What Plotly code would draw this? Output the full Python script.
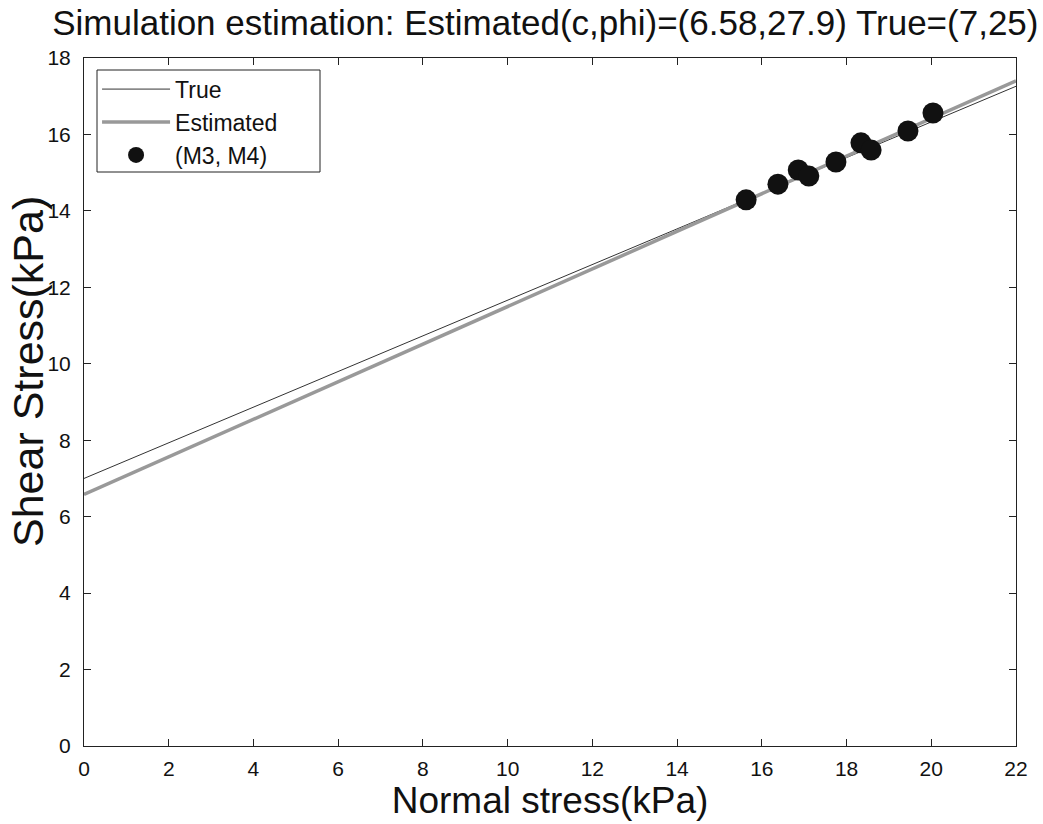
import plotly.graph_objects as go

# Data
line_x = [0, 22]
true_y = [7.0, 17.26]
est_y = [6.58, 17.40]
pts_x = [15.63, 16.38, 16.86, 17.11, 17.75, 18.34, 18.58, 19.45, 20.04]
pts_y = [14.29, 14.70, 15.07, 14.91, 15.28, 15.78, 15.59, 16.09, 16.56]
x_ticks = list(range(0, 23, 2))
y_ticks = list(range(0, 19, 2))

fig = go.Figure()
fig.add_trace(go.Scatter(x=line_x, y=true_y, mode="lines", name="True",
                         line=dict(color="#333333", width=1)))
fig.add_trace(go.Scatter(x=line_x, y=est_y, mode="lines", name="Estimated",
                         line=dict(color="#999999", width=3.5)))
fig.add_trace(go.Scatter(x=pts_x, y=pts_y, mode="markers", name="(M3, M4)",
                         marker=dict(color="#111111", size=21)))

font = "Liberation Sans, Arial, sans-serif"
axis_common = dict(showgrid=False, zeroline=False, showline=True, linecolor="#222222",
                   linewidth=1, mirror="allticks", ticks="inside", ticklen=7,
                   tickcolor="#222222", tickfont=dict(size=21, color="#111111", family=font))

W, H = 1043, 824
ML, MR, MT, MB = 84, 27, 58, 78
PW, PH = W - ML - MR, H - MT - MB

fig.update_layout(
    width=W, height=H,
    margin=dict(l=ML, r=MR, t=MT, b=MB),
    paper_bgcolor="white", plot_bgcolor="white",
    font=dict(family=font, color="#111111"),
    title=dict(text="Simulation estimation: Estimated(c,phi)=(6.58,27.9) True=(7,25)",
               x=0.495, xref="paper", y=0.972, yref="container", yanchor="middle",
               font=dict(size=35, color="#111111")),
    xaxis=dict(range=[0, 22], tickvals=x_ticks, ticklabelstandoff=4, **axis_common,
               title=dict(text="Normal stress(kPa)", font=dict(size=37), standoff=3)),
    yaxis=dict(range=[0, 18], tickvals=y_ticks, ticklabelstandoff=8, **axis_common),
    legend=dict(x=0.014, y=0.986, xanchor="left", yanchor="top",
                bgcolor="rgba(0,0,0,0)", borderwidth=0,
                font=dict(size=23), itemwidth=68, tracegroupgap=0),
    showlegend=True,
    annotations=[dict(text="Shear Stress(kPa)", textangle=-90,
                      x=(28 - ML) / PW, xref="paper", xanchor="center",
                      y=0.5436, yref="paper", yanchor="middle", showarrow=False,
                      font=dict(size=43, color="#111111"))],
    shapes=[dict(type="rect", xref="paper", yref="paper", layer="above",
                 x0=(97 - ML) / PW, x1=(320 - ML) / PW,
                 y0=(H - MB - 172) / PH, y1=(H - MB - 70) / PH,
                 line=dict(color="#222222", width=1), fillcolor="white")],
)

fig.write_html("out.html")
